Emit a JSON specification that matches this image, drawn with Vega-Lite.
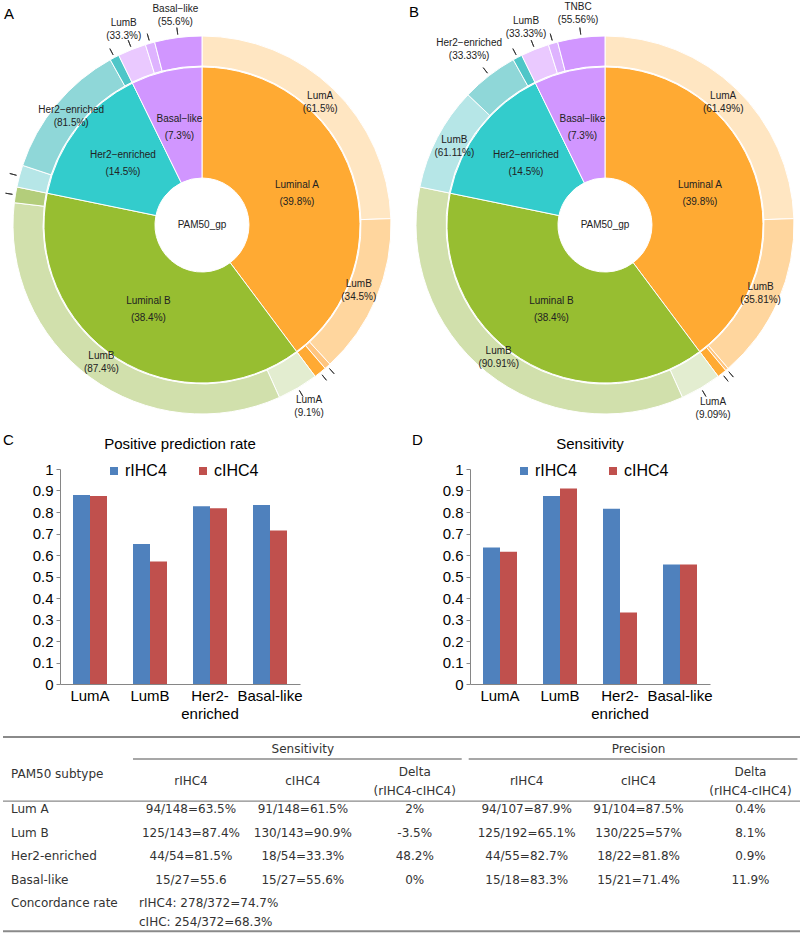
{
  "$schema": "https://vega.github.io/schema/vega-lite/v6.json",
  "padding": {"left": 2, "top": 2, "right": 0, "bottom": 0},
  "background": "white",
  "spacing": 12,
  "resolve": {"scale": {"color": "independent", "fill": "independent"}, "legend": {"color": "independent"}},
  "config": {
    "view": {"stroke": null},
    "axis": {"labelFont": "Liberation Sans"},
    "legend": {"labelFont": "Liberation Sans"},
    "title": {"font": "Liberation Sans", "fontWeight": "normal", "color": "#000"},
    "text": {"font": "Liberation Sans"}
  },
  "datasets": {
    "inner": [
      {"grp": "Luminal A", "n": 148, "ord": 1, "seg": "LumA", "label": "Luminal A\n(39.8%)"},
      {"grp": "Luminal B", "n": 143, "ord": 2, "seg": "LumB", "label": "Luminal B\n(38.4%)"},
      {"grp": "Her2-enriched", "n": 54, "ord": 3, "seg": "Her2", "label": "Her2−enriched\n(14.5%)"},
      {"grp": "Basal-like", "n": 27, "ord": 4, "seg": "Basal", "label": "Basal−like\n(7.3%)"}
    ],
    "outerA": [
      {"ord": 1, "n": 91, "seg": "LumA/LumA", "label": "LumA\n(61.5%)"},
      {"ord": 2, "n": 51, "seg": "LumA/LumB", "label": "LumB\n(34.5%)"},
      {"ord": 3, "n": 2, "seg": "LumA/Her2", "label": ""},
      {"ord": 4, "n": 4, "seg": "LumA/Basal", "label": ""},
      {"ord": 5, "n": 13, "seg": "LumB/LumA", "label": "LumA\n(9.1%)"},
      {"ord": 6, "n": 125, "seg": "LumB/LumB", "label": "LumB\n(87.4%)"},
      {"ord": 7, "n": 5, "seg": "LumB/Her2", "label": ""},
      {"ord": 8, "n": 7, "seg": "Her2/LumB", "label": ""},
      {"ord": 9, "n": 44, "seg": "Her2/Her2", "label": "Her2−enriched\n(81.5%)"},
      {"ord": 10, "n": 3, "seg": "Her2/Basal", "label": ""},
      {"ord": 11, "n": 9, "seg": "Basal/LumB", "label": "LumB\n(33.3%)"},
      {"ord": 12, "n": 3, "seg": "Basal/Her2", "label": ""},
      {"ord": 13, "n": 15, "seg": "Basal/Basal", "label": "Basal−like\n(55.6%)"}
    ],
    "outerB": [
      {"ord": 1, "n": 91, "seg": "LumA/LumA", "label": "LumA\n(61.49%)"},
      {"ord": 2, "n": 53, "seg": "LumA/LumB", "label": "LumB\n(35.81%)"},
      {"ord": 3, "n": 1, "seg": "LumA/Her2", "label": ""},
      {"ord": 4, "n": 3, "seg": "LumA/Basal", "label": ""},
      {"ord": 5, "n": 13, "seg": "LumB/LumA", "label": "LumA\n(9.09%)"},
      {"ord": 6, "n": 130, "seg": "LumB/LumB", "label": "LumB\n(90.91%)"},
      {"ord": 8, "n": 33, "seg": "Her2/LumB", "label": "LumB\n(61.11%)"},
      {"ord": 9, "n": 18, "seg": "Her2/Her2", "label": "Her2−enriched\n(33.33%)"},
      {"ord": 10, "n": 3, "seg": "Her2/Basal", "label": ""},
      {"ord": 11, "n": 9, "seg": "Basal/LumB", "label": "LumB\n(33.33%)"},
      {"ord": 12, "n": 3, "seg": "Basal/Her2", "label": ""},
      {"ord": 13, "n": 15, "seg": "Basal/Basal", "label": "TNBC\n(55.56%)"}
    ],
    "ppr": [
      {"subtype": "LumA", "method": "rIHC4", "value": 0.879},
      {"subtype": "LumA", "method": "cIHC4", "value": 0.875},
      {"subtype": "LumB", "method": "rIHC4", "value": 0.651},
      {"subtype": "LumB", "method": "cIHC4", "value": 0.57},
      {"subtype": "Her2-enriched", "method": "rIHC4", "value": 0.827},
      {"subtype": "Her2-enriched", "method": "cIHC4", "value": 0.818},
      {"subtype": "Basal-like", "method": "rIHC4", "value": 0.833},
      {"subtype": "Basal-like", "method": "cIHC4", "value": 0.714}
    ],
    "sens": [
      {"subtype": "LumA", "method": "rIHC4", "value": 0.635},
      {"subtype": "LumA", "method": "cIHC4", "value": 0.615},
      {"subtype": "LumB", "method": "rIHC4", "value": 0.874},
      {"subtype": "LumB", "method": "cIHC4", "value": 0.909},
      {"subtype": "Her2-enriched", "method": "rIHC4", "value": 0.815},
      {"subtype": "Her2-enriched", "method": "cIHC4", "value": 0.333},
      {"subtype": "Basal-like", "method": "rIHC4", "value": 0.556},
      {"subtype": "Basal-like", "method": "cIHC4", "value": 0.556}
    ],
    "cells": [
      {"row": "h0", "col": "sc", "text": "Sensitivity"},
      {"row": "h0", "col": "pc", "text": "Precision"},
      {"row": "h1", "col": "sr", "text": "rIHC4"},
      {"row": "h1", "col": "sc", "text": "cIHC4"},
      {"row": "h1", "col": "sd", "text": "Delta\n(rIHC4-cIHC4)"},
      {"row": "h1", "col": "pr", "text": "rIHC4"},
      {"row": "h1", "col": "pc", "text": "cIHC4"},
      {"row": "h1", "col": "pd", "text": "Delta\n(rIHC4-cIHC4)"},
      {"row": "LumA", "col": "sr", "text": "94/148=63.5%"},
      {"row": "LumA", "col": "sc", "text": "91/148=61.5%"},
      {"row": "LumA", "col": "sd", "text": "2%"},
      {"row": "LumA", "col": "pr", "text": "94/107=87.9%"},
      {"row": "LumA", "col": "pc", "text": "91/104=87.5%"},
      {"row": "LumA", "col": "pd", "text": "0.4%"},
      {"row": "LumB", "col": "sr", "text": "125/143=87.4%"},
      {"row": "LumB", "col": "sc", "text": "130/143=90.9%"},
      {"row": "LumB", "col": "sd", "text": "-3.5%"},
      {"row": "LumB", "col": "pr", "text": "125/192=65.1%"},
      {"row": "LumB", "col": "pc", "text": "130/225=57%"},
      {"row": "LumB", "col": "pd", "text": "8.1%"},
      {"row": "Her2", "col": "sr", "text": "44/54=81.5%"},
      {"row": "Her2", "col": "sc", "text": "18/54=33.3%"},
      {"row": "Her2", "col": "sd", "text": "48.2%"},
      {"row": "Her2", "col": "pr", "text": "44/55=82.7%"},
      {"row": "Her2", "col": "pc", "text": "18/22=81.8%"},
      {"row": "Her2", "col": "pd", "text": "0.9%"},
      {"row": "Basal", "col": "sr", "text": "15/27=55.6"},
      {"row": "Basal", "col": "sc", "text": "15/27=55.6%"},
      {"row": "Basal", "col": "sd", "text": "0%"},
      {"row": "Basal", "col": "pr", "text": "15/18=83.3%"},
      {"row": "Basal", "col": "pc", "text": "15/21=71.4%"},
      {"row": "Basal", "col": "pd", "text": "11.9%"}
    ],
    "rowtext": [
      {"row": "h1", "col": "label", "text": "PAM50 subtype"},
      {"row": "LumA", "col": "label", "text": "Lum A"},
      {"row": "LumB", "col": "label", "text": "Lum B"},
      {"row": "Her2", "col": "label", "text": "Her2-enriched"},
      {"row": "Basal", "col": "label", "text": "Basal-like"},
      {"row": "Conc", "col": "label", "text": "Concordance rate"},
      {"row": "Conc", "col": "conc", "text": "rIHC4: 278/372=74.7%\ncIHC: 254/372=68.3%"}
    ]
  },
  "vconcat": [
    {
      "hconcat": [
        {
          "width": 398, "height": 380,
          "title": {"text": "A", "anchor": "start", "frame": "group", "fontSize": 15, "baseline": "alphabetic", "offset": -30, "dx": 1},
          "layer": [
            {"data": {"name": "inner"}, "mark": {"type": "arc", "radius": 158, "radius2": 47, "stroke": "white", "strokeWidth": 1},
             "encoding": {"theta": {"field": "n", "type": "quantitative", "stack": true}, "order": {"field": "ord", "type": "quantitative"},
               "fill": {"field": "seg", "type": "nominal", "legend": null, "scale": {"domain": ["LumA","LumB","Her2","Basal","LumA/LumA","LumA/LumB","LumA/Her2","LumA/Basal","LumB/LumA","LumB/LumB","LumB/Her2","Her2/LumB","Her2/Her2","Her2/Basal","Basal/LumB","Basal/Her2","Basal/Basal"], "range": ["#FFAA33","#97BE31","#33CCCC","#D196FF","#FFE6C2","#FFD69E","#FFC57F","#FFAA33","#E3EDD0","#D1E0AC","#B3CD7B","#B6E6E7","#8FD7D8","#4FC6C8","#EAC9FF","#DEB3FF","#D196FF"]}}}},
            {"data": {"name": "inner"}, "mark": {"type": "text", "radius": 100, "lineBreak": "\n", "lineHeight": 17, "dy": -8.5, "fontSize": 10, "color": "#222"},
             "encoding": {"theta": {"field": "n", "type": "quantitative", "stack": true}, "order": {"field": "ord", "type": "quantitative"}, "text": {"field": "label"}}},
            {"data": {"name": "outerA"}, "mark": {"type": "arc", "radius": 189, "radius2": 159, "stroke": "white", "strokeWidth": 1},
             "encoding": {"theta": {"field": "n", "type": "quantitative", "stack": true}, "order": {"field": "ord", "type": "quantitative"},
               "fill": {"field": "seg", "type": "nominal", "legend": null}}},
            {"data": {"name": "outerA"}, "mark": {"type": "arc", "radius": 199, "radius2": 192, "padAngle": 3, "fillOpacity": 0, "stroke": "#333", "strokeWidth": 0.9},
             "encoding": {"theta": {"field": "n", "type": "quantitative", "stack": true}, "order": {"field": "ord", "type": "quantitative"},
               "strokeOpacity": {"condition": {"test": "datum.n < 20", "value": 1}, "value": 0}}},
            {"data": {"name": "outerA"}, "mark": {"type": "text", "lineBreak": "\n", "lineHeight": 13, "dy": -6.5, "fontSize": 10, "color": "#222"},
             "encoding": {"theta": {"field": "n", "type": "quantitative", "stack": true}, "order": {"field": "ord", "type": "quantitative"}, "text": {"field": "label"},
               "radius": {"field": "n", "type": "quantitative", "scale": {"type": "linear", "domain": [0, 7.5, 8, 19.5, 20, 400], "range": [170, 170, 211, 211, 170, 170], "zero": false, "nice": false}}}},
            {"data": {"values": [{"t": "PAM50_gp"}]}, "mark": {"type": "text", "fontSize": 10, "color": "#222"}, "encoding": {"text": {"field": "t"}}}
          ]
        },
        {
          "width": 388, "height": 380,
          "title": {"text": "B", "anchor": "start", "frame": "group", "fontSize": 15, "baseline": "alphabetic", "offset": -30, "dx": -2},
          "layer": [
            {"data": {"name": "inner"}, "mark": {"type": "arc", "radius": 158, "radius2": 47, "stroke": "white", "strokeWidth": 1},
             "encoding": {"theta": {"field": "n", "type": "quantitative", "stack": true}, "order": {"field": "ord", "type": "quantitative"},
               "fill": {"field": "seg", "type": "nominal", "legend": null, "scale": {"domain": ["LumA","LumB","Her2","Basal","LumA/LumA","LumA/LumB","LumA/Her2","LumA/Basal","LumB/LumA","LumB/LumB","LumB/Her2","Her2/LumB","Her2/Her2","Her2/Basal","Basal/LumB","Basal/Her2","Basal/Basal"], "range": ["#FFAA33","#97BE31","#33CCCC","#D196FF","#FFE6C2","#FFD69E","#FFC57F","#FFAA33","#E3EDD0","#D1E0AC","#B3CD7B","#B6E6E7","#8FD7D8","#4FC6C8","#EAC9FF","#DEB3FF","#D196FF"]}}}},
            {"data": {"name": "inner"}, "mark": {"type": "text", "radius": 100, "lineBreak": "\n", "lineHeight": 17, "dy": -8.5, "fontSize": 10, "color": "#222"},
             "encoding": {"theta": {"field": "n", "type": "quantitative", "stack": true}, "order": {"field": "ord", "type": "quantitative"}, "text": {"field": "label"}}},
            {"data": {"name": "outerB"}, "mark": {"type": "arc", "radius": 189, "radius2": 159, "stroke": "white", "strokeWidth": 1},
             "encoding": {"theta": {"field": "n", "type": "quantitative", "stack": true}, "order": {"field": "ord", "type": "quantitative"},
               "fill": {"field": "seg", "type": "nominal", "legend": null}}},
            {"data": {"name": "outerB"}, "mark": {"type": "arc", "radius": 199, "radius2": 192, "padAngle": 3, "fillOpacity": 0, "stroke": "#333", "strokeWidth": 0.9},
             "encoding": {"theta": {"field": "n", "type": "quantitative", "stack": true}, "order": {"field": "ord", "type": "quantitative"},
               "strokeOpacity": {"condition": {"test": "datum.n < 20", "value": 1}, "value": 0}}},
            {"data": {"name": "outerB"}, "mark": {"type": "text", "lineBreak": "\n", "lineHeight": 13, "dy": -6.5, "fontSize": 10, "color": "#222"},
             "encoding": {"theta": {"field": "n", "type": "quantitative", "stack": true}, "order": {"field": "ord", "type": "quantitative"}, "text": {"field": "label"},
               "radius": {"field": "n", "type": "quantitative", "scale": {"type": "linear", "domain": [0, 7.5, 8, 15.5, 16, 19.5, 20, 400], "range": [170, 170, 213, 213, 222, 222, 170, 170], "zero": false, "nice": false}}}},
            {"data": {"values": [{"t": "PAM50_gp"}]}, "mark": {"type": "text", "fontSize": 10, "color": "#222"}, "encoding": {"text": {"field": "t"}}}
          ]
        }
      ],
      "spacing": 10,
      "bounds": "flush"
    },
    {
      "hconcat": [
        {"width": 1, "height": 215, "data": {"values": []}, "mark": {"type": "point"},
         "title": {"text": "C", "anchor": "start", "frame": "group", "fontSize": 15, "baseline": "alphabetic", "offset": 9}},
        {
          "width": 240, "height": 215,
          "data": {"name": "ppr"},
          "title": {"text": "Positive prediction rate", "anchor": "middle", "fontSize": 15, "baseline": "alphabetic", "offset": -2},
          "mark": {"type": "bar"},
          "encoding": {
            "x": {"field": "subtype", "type": "nominal", "sort": ["LumA", "LumB", "Her2-enriched", "Basal-like"], "scale": {"paddingInner": 0.4333, "paddingOuter": 0.2167},
              "axis": {"title": null, "labelAngle": 0, "ticks": false, "domainColor": "#868686", "labelFontSize": 15, "labelColor": "#000", "labelPadding": 4, "labelLineHeight": 18,
                "labelExpr": "datum.value == 'Her2-enriched' ? ['Her2-', 'enriched'] : datum.value"}},
            "xOffset": {"field": "method", "type": "nominal", "sort": ["rIHC4", "cIHC4"]},
            "y": {"field": "value", "type": "quantitative", "scale": {"domain": [0, 1]},
              "axis": {"title": null, "grid": false, "values": [0, 0.1, 0.2, 0.3, 0.4, 0.5, 0.6, 0.7, 0.8, 0.9, 1], "format": "~g", "domainColor": "#868686", "tickColor": "#868686", "tickSize": 4, "labelFontSize": 15, "labelColor": "#000", "labelPadding": 3}},
            "color": {"field": "method", "type": "nominal", "sort": ["rIHC4", "cIHC4"], "scale": {"domain": ["rIHC4", "cIHC4"], "range": ["#4F81BD", "#C0504D"]},
              "legend": {"orient": "none", "legendX": 46, "legendY": -6, "direction": "horizontal", "title": null, "symbolType": "square", "symbolSize": 64, "symbolStrokeWidth": 0, "labelFontSize": 16, "labelColor": "#000", "columnPadding": 28, "labelOffset": 3}}
          }
        },
        {"width": 58, "height": 215, "data": {"values": []}, "mark": {"type": "point"},
         "title": {"text": "D", "anchor": "start", "frame": "group", "fontSize": 15, "baseline": "alphabetic", "offset": 9, "dx": 56}},
        {
          "width": 240, "height": 215,
          "data": {"name": "sens"},
          "title": {"text": "Sensitivity", "anchor": "middle", "fontSize": 15, "baseline": "alphabetic", "offset": -2},
          "mark": {"type": "bar"},
          "encoding": {
            "x": {"field": "subtype", "type": "nominal", "sort": ["LumA", "LumB", "Her2-enriched", "Basal-like"], "scale": {"paddingInner": 0.4333, "paddingOuter": 0.2167},
              "axis": {"title": null, "labelAngle": 0, "ticks": false, "domainColor": "#868686", "labelFontSize": 15, "labelColor": "#000", "labelPadding": 4, "labelLineHeight": 18,
                "labelExpr": "datum.value == 'Her2-enriched' ? ['Her2-', 'enriched'] : datum.value"}},
            "xOffset": {"field": "method", "type": "nominal", "sort": ["rIHC4", "cIHC4"]},
            "y": {"field": "value", "type": "quantitative", "scale": {"domain": [0, 1]},
              "axis": {"title": null, "grid": false, "values": [0, 0.1, 0.2, 0.3, 0.4, 0.5, 0.6, 0.7, 0.8, 0.9, 1], "format": "~g", "domainColor": "#868686", "tickColor": "#868686", "tickSize": 4, "labelFontSize": 15, "labelColor": "#000", "labelPadding": 3}},
            "color": {"field": "method", "type": "nominal", "sort": ["rIHC4", "cIHC4"], "scale": {"domain": ["rIHC4", "cIHC4"], "range": ["#4F81BD", "#C0504D"]},
              "legend": {"orient": "none", "legendX": 46, "legendY": -6, "direction": "horizontal", "title": null, "symbolType": "square", "symbolSize": 64, "symbolStrokeWidth": 0, "labelFontSize": 16, "labelColor": "#000", "columnPadding": 28, "labelOffset": 3}}
          }
        }
      ],
      "spacing": 56,
      "bounds": "flush",
      "resolve": {"scale": {"color": "independent"}, "legend": {"color": "independent"}}
    },
    {
      "width": 797, "height": 195,
      "resolve": {"scale": {"x": "independent"}},
      "layer": [
        {"data": {"name": "cells"}, "transform": [{"filter": "datum.row == 'h0'"}],
         "mark": {"type": "text", "font": "DejaVu Sans", "fontSize": 12, "color": "#333", "dy": -13},
         "encoding": {
           "x": {"field": "col", "type": "nominal", "scale": {"domain": ["sr", "sc", "sd", "pr", "pc", "pd"], "range": [132, 803.4], "paddingInner": 0, "paddingOuter": 0}, "axis": null},
           "y": {"field": "row", "type": "nominal", "scale": {"domain": ["h0", "h1", "LumA", "LumB", "Her2", "Basal", "Conc"], "range": [17, 182.2], "paddingInner": 0, "paddingOuter": 0}, "axis": null},
           "text": {"field": "text"}}},
        {"data": {"name": "cells"}, "transform": [{"filter": "datum.row == 'h1' && datum.col != 'sd' && datum.col != 'pd'"}],
         "mark": {"type": "text", "font": "DejaVu Sans", "fontSize": 12, "color": "#333", "dy": -4},
         "encoding": {
           "x": {"field": "col", "type": "nominal", "scale": {"domain": ["sr", "sc", "sd", "pr", "pc", "pd"], "range": [132, 803.4], "paddingInner": 0, "paddingOuter": 0}, "axis": null},
           "y": {"field": "row", "type": "nominal", "scale": {"domain": ["h0", "h1", "LumA", "LumB", "Her2", "Basal", "Conc"], "range": [17, 182.2], "paddingInner": 0, "paddingOuter": 0}, "axis": null},
           "text": {"field": "text"}}},
        {"data": {"name": "cells"}, "transform": [{"filter": "datum.row == 'h1' && (datum.col == 'sd' || datum.col == 'pd')"}],
         "mark": {"type": "text", "font": "DejaVu Sans", "fontSize": 12, "color": "#333", "dy": -13, "lineBreak": "\n", "lineHeight": 19},
         "encoding": {
           "x": {"field": "col", "type": "nominal", "scale": {"domain": ["sr", "sc", "sd", "pr", "pc", "pd"], "range": [132, 803.4], "paddingInner": 0, "paddingOuter": 0}, "axis": null},
           "y": {"field": "row", "type": "nominal", "scale": {"domain": ["h0", "h1", "LumA", "LumB", "Her2", "Basal", "Conc"], "range": [17, 182.2], "paddingInner": 0, "paddingOuter": 0}, "axis": null},
           "text": {"field": "text"}}},
        {"data": {"name": "cells"}, "transform": [{"filter": "datum.row != 'h0' && datum.row != 'h1'"}],
         "mark": {"type": "text", "font": "DejaVu Sans", "fontSize": 12, "color": "#333"},
         "encoding": {
           "x": {"field": "col", "type": "nominal", "scale": {"domain": ["sr", "sc", "sd", "pr", "pc", "pd"], "range": [132, 803.4], "paddingInner": 0, "paddingOuter": 0}, "axis": null},
           "y": {"field": "row", "type": "nominal", "scale": {"domain": ["h0", "h1", "LumA", "LumB", "Her2", "Basal", "Conc"], "range": [17, 182.2], "paddingInner": 0, "paddingOuter": 0}, "axis": null},
           "text": {"field": "text"}}},
        {"data": {"name": "rowtext"}, "transform": [{"filter": "datum.row == 'h1'"}],
         "mark": {"type": "text", "align": "left", "font": "DejaVu Sans", "fontSize": 12, "color": "#333", "dy": -11},
         "encoding": {
           "x": {"field": "col", "type": "nominal", "scale": {"type": "point", "domain": ["label", "conc"], "range": [8, 136], "padding": 0}, "axis": null},
           "y": {"field": "row", "type": "nominal", "scale": {"domain": ["h0", "h1", "LumA", "LumB", "Her2", "Basal", "Conc"], "range": [17, 182.2], "paddingInner": 0, "paddingOuter": 0}, "axis": null},
           "text": {"field": "text"}}},
        {"data": {"name": "rowtext"}, "transform": [{"filter": "datum.row != 'h1'"}],
         "mark": {"type": "text", "align": "left", "font": "DejaVu Sans", "fontSize": 12, "color": "#333", "lineBreak": "\n", "lineHeight": 19},
         "encoding": {
           "x": {"field": "col", "type": "nominal", "scale": {"type": "point", "domain": ["label", "conc"], "range": [8, 136], "padding": 0}, "axis": null},
           "y": {"field": "row", "type": "nominal", "scale": {"domain": ["h0", "h1", "LumA", "LumB", "Her2", "Basal", "Conc"], "range": [17, 182.2], "paddingInner": 0, "paddingOuter": 0}, "axis": null},
           "text": {"field": "text"}}},
        {"data": {"values": [{"row": "h0"}]}, "mark": {"type": "rule", "color": "#8a8a8a", "strokeWidth": 1.8, "yOffset": -13},
         "encoding": {"y": {"field": "row", "type": "nominal", "bandPosition": 0, "scale": {"domain": ["h0", "h1", "LumA", "LumB", "Her2", "Basal", "Conc"], "range": [17, 182.2], "paddingInner": 0, "paddingOuter": 0}, "axis": null}}},
        {"data": {"values": [{"row": "LumA"}]}, "mark": {"type": "rule", "color": "#8a8a8a", "strokeWidth": 1.3, "yOffset": 4},
         "encoding": {"y": {"field": "row", "type": "nominal", "bandPosition": 0, "scale": {"domain": ["h0", "h1", "LumA", "LumB", "Her2", "Basal", "Conc"], "range": [17, 182.2], "paddingInner": 0, "paddingOuter": 0}, "axis": null}}},
        {"data": {"values": [{"row": "Conc"}]}, "mark": {"type": "rule", "color": "#8a8a8a", "strokeWidth": 2, "yOffset": 16},
         "encoding": {"y": {"field": "row", "type": "nominal", "bandPosition": 1, "scale": {"domain": ["h0", "h1", "LumA", "LumB", "Her2", "Basal", "Conc"], "range": [17, 182.2], "paddingInner": 0, "paddingOuter": 0}, "axis": null}}},
        {"data": {"values": [{"row": "h0", "from": "sr", "to": "sd"}, {"row": "h0", "from": "pr", "to": "pd"}]},
         "mark": {"type": "rule", "color": "#8a8a8a", "strokeWidth": 1.3, "yOffset": 9, "xOffset": -2, "x2Offset": -9},
         "encoding": {
           "x": {"field": "from", "type": "nominal", "bandPosition": 0, "scale": {"domain": ["sr", "sc", "sd", "pr", "pc", "pd"], "range": [132, 803.4], "paddingInner": 0, "paddingOuter": 0}, "axis": null},
           "x2": {"field": "to", "bandPosition": 1},
           "y": {"field": "row", "type": "nominal", "bandPosition": 0, "scale": {"domain": ["h0", "h1", "LumA", "LumB", "Her2", "Basal", "Conc"], "range": [17, 182.2], "paddingInner": 0, "paddingOuter": 0}, "axis": null}}}
      ]
    }
  ]
}
